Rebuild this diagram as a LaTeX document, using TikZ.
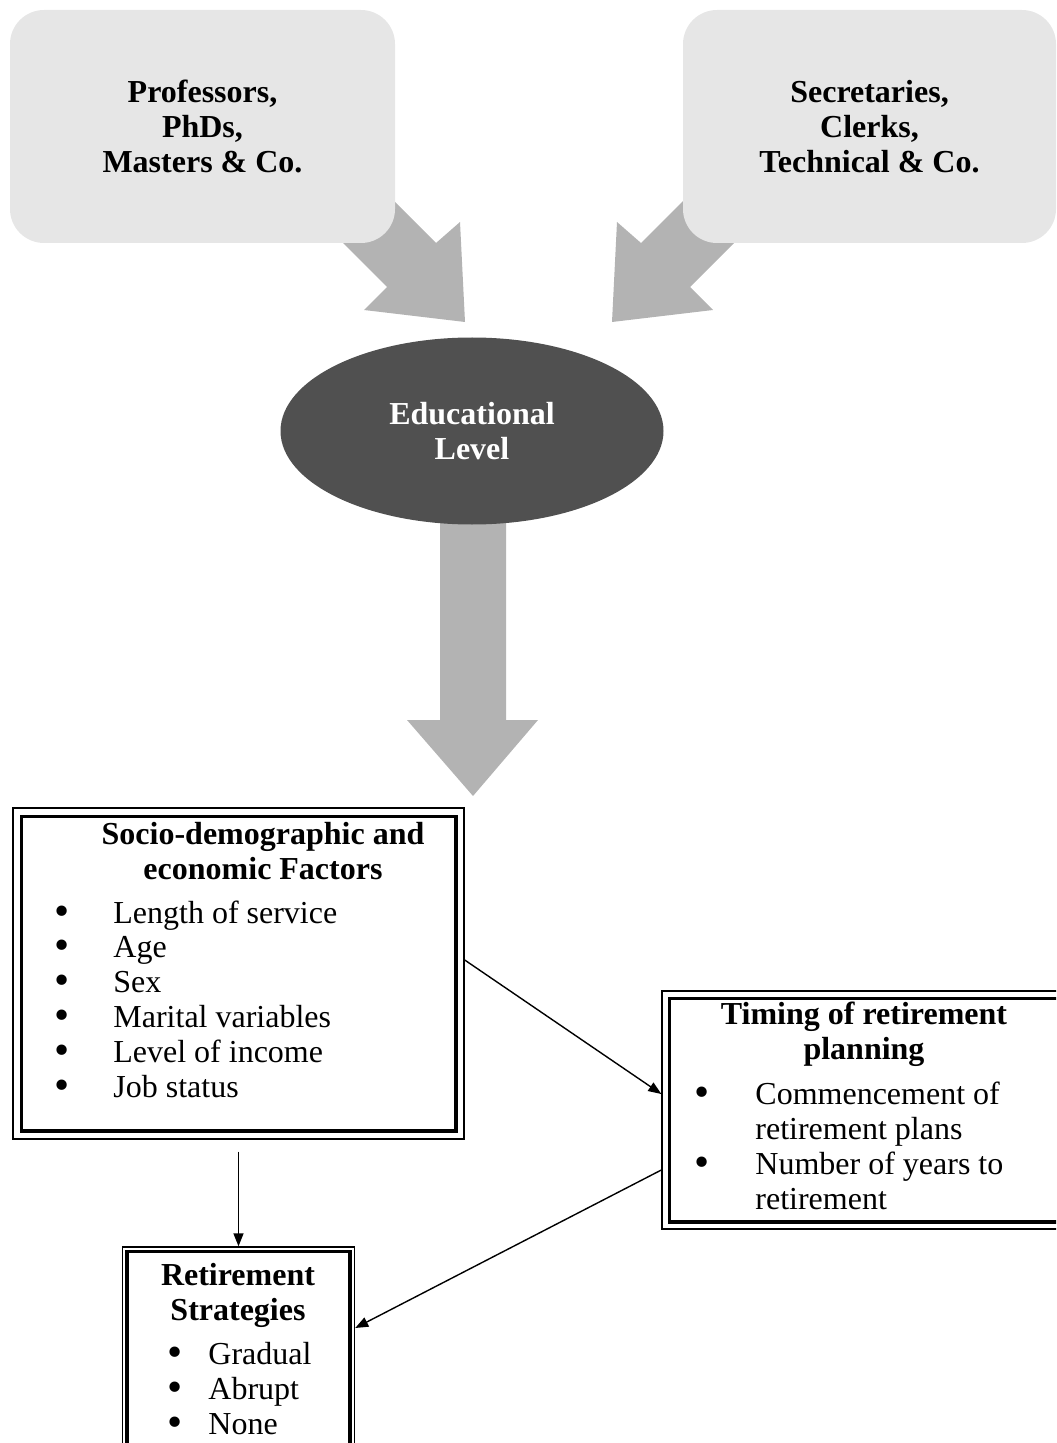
\documentclass[tikz,border=0pt]{standalone}
\usepackage{fontspec}
\setmainfont{Liberation Serif}
\usetikzlibrary{shapes.geometric,arrows.meta,calc}

\definecolor{boxgray}{HTML}{E6E6E6}
\definecolor{arrowgray}{HTML}{B3B3B3}
\definecolor{ovalgray}{HTML}{505050}

\tikzset{
  topbox/.style={fill=boxgray, rounded corners=17pt, align=center, font=\bfseries, inner sep=0pt},
  oval/.style={ellipse, fill=ovalgray, text=white, font=\bfseries, align=center, inner sep=0pt,
    minimum width=191.5pt, minimum height=93.5pt},
  blockarrow/.style={fill=arrowgray},
  frame/.style={draw, line width=0.7pt, inner sep=0pt},
  heading/.style={font=\bfseries, align=center, inner sep=0pt},
  items/.style={align=left, inner sep=0pt},
  conn/.style={line width=0.7pt, -{Triangle[length=6.5pt,width=5pt]}}
}
\newcommand{\itm}[2][29.5pt]{\makebox[#1][l]{\raisebox{-1pt}{\scalebox{1.35}{\textbullet}}}#2}

\begin{document}
\fontsize{16}{17.4}\selectfont
\begin{tikzpicture}[x=0.5pt,y=-0.5pt]
  \useasboundingbox (0,0) rectangle (1056,1443);
  \clip (0,0) rectangle (1056,1443);
  % block arrows
  \fill[blockarrow] (330,137) -- (436,243) -- (460,222) -- (465,322) -- (364,310) -- (387,287) -- (283,183) -- cycle;
  \fill[blockarrow] (747,137) -- (641,243) -- (617,222) -- (612,322) -- (713,310) -- (690,287) -- (794,183) -- cycle;
  \fill[blockarrow] (440,515) -- (506,515) -- (506,720) -- (538,720) -- (473,796) -- (407,720) -- (440,720) -- cycle;

  \node[topbox, minimum width=192.5pt, minimum height=116.5pt] (prof) at (202.5,126.5) {Professors,\\PhDs,\\Masters \& Co.};
  \node[topbox, minimum width=186.5pt, minimum height=116.5pt] (secr) at (869.5,126.5) {Secretaries,\\Clerks,\\Technical \& Co.};
  \node[oval] (edu) at (472,431) {Educational\\Level};

  % boxes
  \node[frame, minimum width=225.5pt, minimum height=165.5pt] (soc) at (238.5,973.5) {};
  \node[frame, minimum width=204pt, minimum height=119pt] (tim) at (866,1110) {};
  \node[frame, minimum width=116pt, minimum height=107pt] (ret) at (238.5,1354) {};
  \foreach \n/\d in {soc/4.5pt,tim/4pt,ret/2.5pt}
    \draw[line width=1.8pt] ([shift={(\d,\d)}]\n.south west) rectangle ([shift={(-\d,-\d)}]\n.north east);

  % texts, base = last line
  \node[heading, anchor=base] (socH) at (263,879) {Socio-demographic and\\economic Factors};
  \node[items, anchor=base west] (socL) at (54,1097) {\itm{Length of service}\\\itm{Age}\\\itm{Sex}\\
    \itm{Marital variables}\\\itm{Level of income}\\\itm{Job status}};
  \node[heading, anchor=base] (timH) at (864,1059) {Timing of retirement\\planning};
  \node[items, anchor=base west] (timL) at (694,1209) {\itm[30.5pt]{Commencement of}\\\hspace*{30.5pt}retirement plans\\
    \itm[30.5pt]{Number of years to}\\\hspace*{30.5pt}retirement};
  \node[heading, anchor=base] (retH) at (238,1320) {Retirement\\Strategies};
  \node[items, anchor=base west] (retL) at (167,1434) {\itm[20.5pt]{Gradual}\\\itm[20.5pt]{Abrupt}\\\itm[20.5pt]{None}};

  % connectors
  \draw[conn] ($(soc.east)+(0,-13.5)$) -- ($(tim.west)+(0,-16)$);
  \draw[conn] ($(tim.west)+(0,60)$) -- ($(ret.east)+(0,-26)$);
  \draw[conn] ($(ret.north |- soc.south)+(0,12)$) -- (ret.north);
\end{tikzpicture}
\end{document}
